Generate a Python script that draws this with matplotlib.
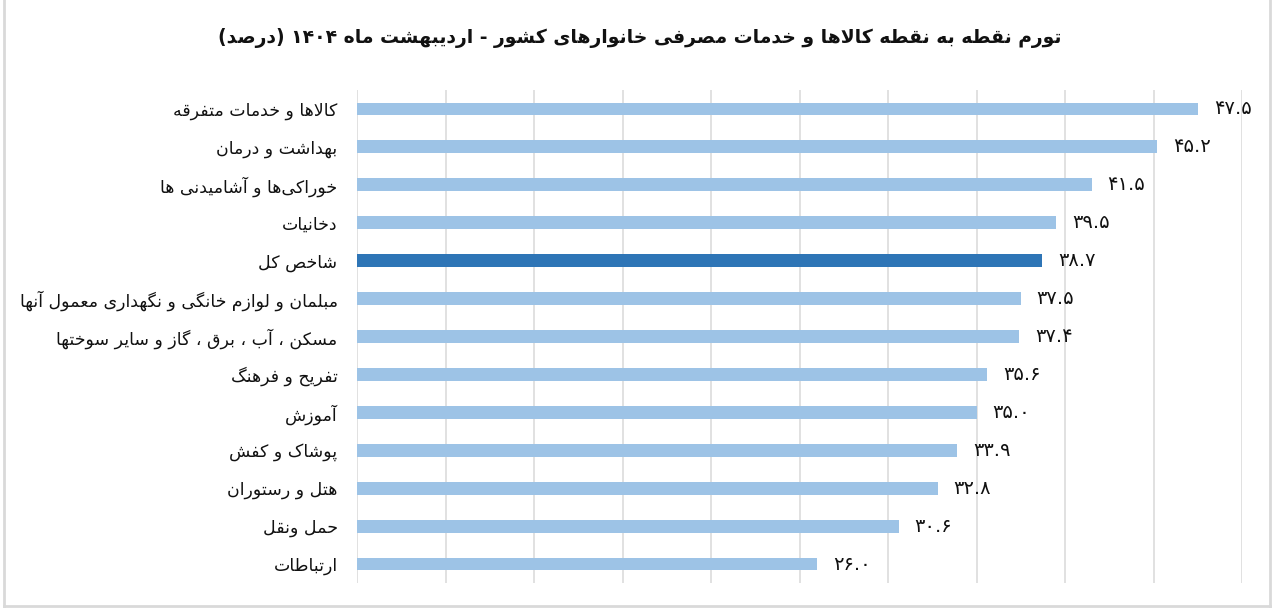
import matplotlib
matplotlib.use("Agg")
import matplotlib.pyplot as plt
from matplotlib.lines import Line2D

# ---------------- data ----------------
categories = [
    "کالاها و خدمات متفرقه",
    "بهداشت و درمان",
    "خوراکی‌ها و آشامیدنی ها",
    "دخانیات",
    "شاخص کل",
    "مبلمان و لوازم خانگی و نگهداری معمول آنها",
    "مسکن ، آب ، برق ، گاز و سایر سوختها",
    "تفریح و فرهنگ",
    "آموزش",
    "پوشاک و کفش",
    "هتل و رستوران",
    "حمل ونقل",
    "ارتباطات",
]
values = [47.5, 45.2, 41.5, 39.5, 38.7, 37.5, 37.4, 35.6, 35.0, 33.9, 32.8, 30.6, 26.0]
highlight = "شاخص کل"
title = "تورم نقطه به نقطه کالاها و خدمات مصرفی خانوارهای کشور - اردیبهشت ماه ۱۴۰۴ (درصد)"
xticks = [0, 5, 10, 15, 20, 25, 30, 35, 40, 45, 50]

# ---------------- Arabic/Persian shaping ----------------
# forms: (isolated, final, initial, medial); None for initial/medial -> right-joining only
FORMS = {
    "ا": (0xFE8D, 0xFE8E, None, None),
    "آ": (0xFE81, 0xFE82, None, None),
    "ب": (0xFE8F, 0xFE90, 0xFE91, 0xFE92),
    "ت": (0xFE95, 0xFE96, 0xFE97, 0xFE98),
    "ث": (0xFE99, 0xFE9A, 0xFE9B, 0xFE9C),
    "ج": (0xFE9D, 0xFE9E, 0xFE9F, 0xFEA0),
    "ح": (0xFEA1, 0xFEA2, 0xFEA3, 0xFEA4),
    "خ": (0xFEA5, 0xFEA6, 0xFEA7, 0xFEA8),
    "د": (0xFEA9, 0xFEAA, None, None),
    "ذ": (0xFEAB, 0xFEAC, None, None),
    "ر": (0xFEAD, 0xFEAE, None, None),
    "ز": (0xFEAF, 0xFEB0, None, None),
    "س": (0xFEB1, 0xFEB2, 0xFEB3, 0xFEB4),
    "ش": (0xFEB5, 0xFEB6, 0xFEB7, 0xFEB8),
    "ص": (0xFEB9, 0xFEBA, 0xFEBB, 0xFEBC),
    "ض": (0xFEBD, 0xFEBE, 0xFEBF, 0xFEC0),
    "ط": (0xFEC1, 0xFEC2, 0xFEC3, 0xFEC4),
    "ظ": (0xFEC5, 0xFEC6, 0xFEC7, 0xFEC8),
    "ع": (0xFEC9, 0xFECA, 0xFECB, 0xFECC),
    "غ": (0xFECD, 0xFECE, 0xFECF, 0xFED0),
    "ف": (0xFED1, 0xFED2, 0xFED3, 0xFED4),
    "ق": (0xFED5, 0xFED6, 0xFED7, 0xFED8),
    "ل": (0xFEDD, 0xFEDE, 0xFEDF, 0xFEE0),
    "م": (0xFEE1, 0xFEE2, 0xFEE3, 0xFEE4),
    "ن": (0xFEE5, 0xFEE6, 0xFEE7, 0xFEE8),
    "ه": (0xFEE9, 0xFEEA, 0xFEEB, 0xFEEC),
    "و": (0xFEED, 0xFEEE, None, None),
    "ی": (0xFBFC, 0xFBFD, 0xFBFE, 0xFBFF),
    "ک": (0xFB8E, 0xFB8F, 0xFB90, 0xFB91),
    "گ": (0xFB92, 0xFB93, 0xFB94, 0xFB95),
    "پ": (0xFB56, 0xFB57, 0xFB58, 0xFB59),
    "چ": (0xFB7A, 0xFB7B, 0xFB7C, 0xFB7D),
    "ژ": (0xFB8A, 0xFB8B, None, None),
}
LAM_ALEF = {"ا": (0xFEFB, 0xFEFC), "آ": (0xFEF5, 0xFEF6)}


def dual(c):
    return c in FORMS and FORMS[c][2] is not None


def shape(s):
    out = []
    i = 0
    n = len(s)
    while i < n:
        c = s[i]
        if c not in FORMS:
            if c != "\u200c":
                out.append(c)
            i += 1
            continue
        prev = s[i - 1] if i > 0 else ""
        cp = dual(prev)
        if c == "ل" and i + 1 < n and s[i + 1] in LAM_ALEF:
            iso, fin = LAM_ALEF[s[i + 1]]
            out.append(chr(fin if cp else iso))
            i += 2
            continue
        nxt = s[i + 1] if i + 1 < n else ""
        cn = dual(c) and nxt in FORMS
        iso, fin, ini, med = FORMS[c]
        if cp and cn:
            f = med
        elif cp:
            f = fin
        elif cn:
            f = ini
        else:
            f = iso
        out.append(chr(f))
        i += 1
    return "".join(out)


DIGITS = set("0123456789۰۱۲۳۴۵۶۷۸۹.")
MIRROR = {"(": ")", ")": "("}


def rtl(s):
    sh = shape(s)
    rev = sh[::-1]
    res = []
    run = []
    for ch in rev:
        if ch in DIGITS:
            run.append(ch)
        else:
            if run:
                res.extend(run[::-1])
                run = []
            res.append(MIRROR.get(ch, ch))
    if run:
        res.extend(run[::-1])
    return "".join(res)


def fa_num(v):
    t = f"{v:.1f}"
    return t.translate(str.maketrans("0123456789", "۰۱۲۳۴۵۶۷۸۹"))


# ---------------- plot ----------------
plt.rcParams["font.family"] = ["DejaVu Sans"]
W, H = 1280, 608
fig = plt.figure(figsize=(W / 100, H / 100), dpi=100)
fig.patch.set_facecolor("white")

ax = fig.add_axes([357 / W, (H - 583) / H, 885 / W, 493 / H])
ypos = list(range(len(categories)))
colors = ["#2E75B6" if c == highlight else "#9DC3E6" for c in categories]
ax.barh(ypos, values, height=0.34, color=colors, zorder=3)

ax.set_xlim(0, 50)
ax.set_ylim(len(categories) - 0.5, -0.5)
ax.set_xticks(xticks)
ax.set_xticklabels([])
ax.grid(axis="x", color="#D9D9D9", linewidth=1.1, zorder=0)
ax.tick_params(axis="both", length=0)
for sp in ax.spines.values():
    sp.set_visible(False)

ax.set_yticks(ypos)
ax.set_yticklabels([rtl(c) for c in categories], fontsize=12.5, color="#111111")
ax.tick_params(axis="y", pad=14)

for y, v in zip(ypos, values):
    ax.annotate(fa_num(v), (v, y), xytext=(11.5, 0), textcoords="offset points",
                va="center", ha="left", fontsize=14, color="#111111",
                clip_on=False)

fig.text(640 / W, 1 - 38 / H, rtl(title), ha="center", va="center",
         fontsize=13.5, fontweight="bold", color="#111111")

# chart border
bc = "#D9D9D9"
fig.add_artist(Line2D([4 / W, 4 / W], [2 / H, 1], color=bc, lw=2, transform=fig.transFigure))
fig.add_artist(Line2D([1270 / W, 1270 / W], [2 / H, 1], color=bc, lw=2, transform=fig.transFigure))
fig.add_artist(Line2D([4 / W, 1270 / W], [2 / H, 2 / H], color=bc, lw=2, transform=fig.transFigure))

fig.savefig("out.png", dpi=100)
